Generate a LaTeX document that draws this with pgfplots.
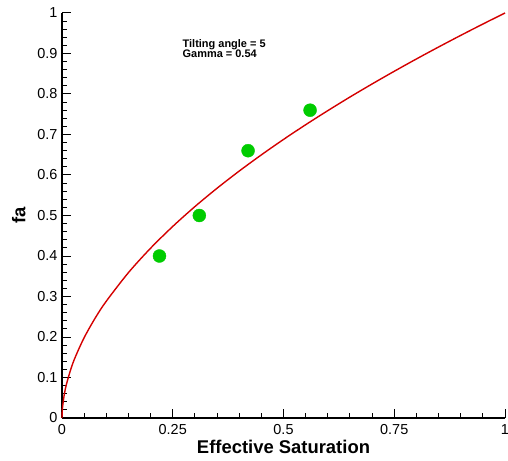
\documentclass[border=0pt]{standalone}
\usepackage{pgfplots}
\pgfplotsset{compat=1.18}
\usepackage{fontspec}
\setmainfont{Liberation Sans}
\definecolor{fitred}{HTML}{D40000}
\definecolor{ptgreen}{HTML}{00CC00}
\begin{document}
\begin{tikzpicture}
\begin{axis}[
  scale only axis, width=443bp, height=405bp,
  xmin=0, xmax=1, ymin=0, ymax=1,
  axis x line=bottom, axis y line=left,
  axis line style={-, line width=1.6pt},
  xtick={0,0.25,0.5,0.75,1}, xticklabels={0,0.25,0.5,0.75,1},
  ytick={0,0.1,...,1.01}, yticklabels={0,0.1,0.2,0.3,0.4,0.5,0.6,0.7,0.8,0.9,1},
  minor x tick num=4, minor y tick num=4,
  tick align=inside, major tick length=9bp, minor tick length=5bp,
  every tick/.style={black, line width=1pt},
  tick label style={font=\fontsize{14.5}{14.5}\selectfont},
  xticklabel style={yshift=-3bp}, yticklabel style={xshift=-1bp},
  xlabel={\bfseries Effective Saturation}, ylabel={\bfseries fa},
  label style={font=\fontsize{18.5}{18.5}\selectfont},
  xlabel style={yshift=1pt}, ylabel style={yshift=5pt},
  /pgf/number format/assume math mode=true,
  clip=false,
]
\addplot[fitred, line width=1.4pt, smooth] coordinates {
  (0,0) (0.001,0.0240) (0.005,0.0572) (0.01,0.0832) (0.02,0.1209) (0.03,0.1505)
  (0.05,0.1984) (0.075,0.2469) (0.1,0.2884) (0.15,0.3590) (0.2,0.4193)
  (0.25,0.4730) (0.3,0.5220) (0.35,0.5673) (0.4,0.6097) (0.45,0.6497)
  (0.5,0.6878) (0.55,0.7241) (0.6,0.7589) (0.65,0.7925) (0.7,0.8248)
  (0.75,0.8561) (0.8,0.8865) (0.85,0.9160) (0.9,0.9447) (0.95,0.9727) (1,1)
};
\addplot[only marks, mark=*, mark size=6.5bp, mark options={fill=ptgreen, draw=ptgreen}] coordinates {
  (0.22,0.40) (0.31,0.50) (0.42,0.66) (0.56,0.76)
};
\node[anchor=north west, align=left, inner sep=0pt, font=\bfseries\fontsize{11}{10.5}\selectfont]
  at (axis cs:0.272,0.935) {Tilting angle = 5\\Gamma = 0.54};
\end{axis}
\pgfresetboundingbox
\path ([shift={(-62bp,-43bp)}]current axis.south west) rectangle ([shift={(3bp,13bp)}]current axis.north east);
\end{tikzpicture}
\end{document}
